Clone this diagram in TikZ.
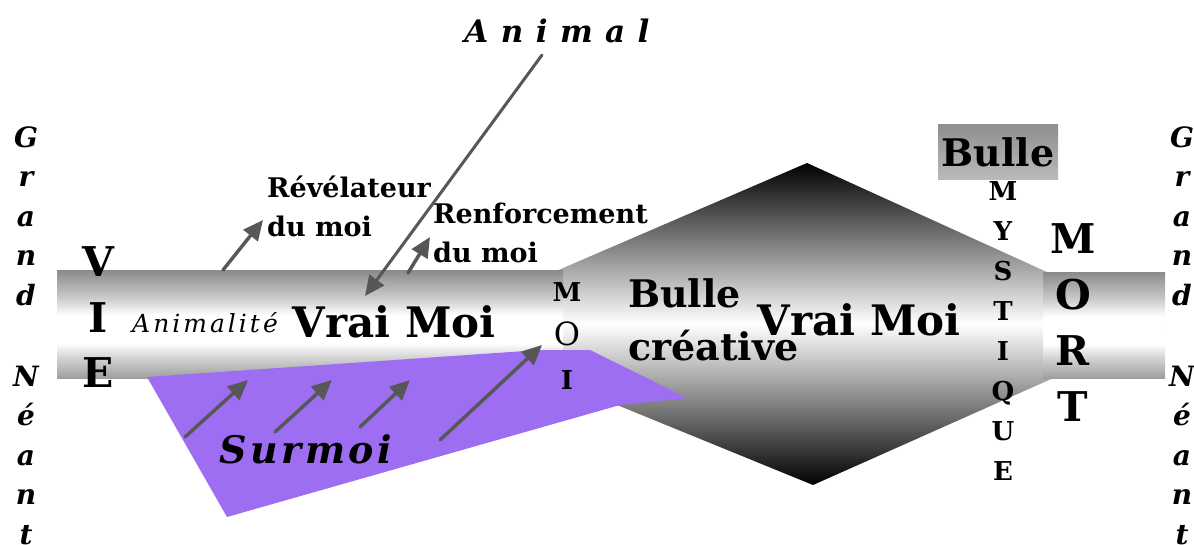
\documentclass[tikz,border=0pt]{standalone}
\usepackage{fontspec}
\setmainfont{DejaVu Serif}
\usepackage{xcolor}
\usepackage{tikz}
\usetikzlibrary{arrows.meta}
\definecolor{vmArrow}{HTML}{575757}
\definecolor{vmViolet}{HTML}{9E6EF2}
\pgfdeclareverticalshading{vmbarshade}{100bp}{color(0bp)=(black!38); color(25bp)=(black!38); color(35bp)=(black!16); color(41bp)=(white); color(54bp)=(white); color(62bp)=(black!20); color(75bp)=(black!46); color(100bp)=(black!46)}
\newcommand{\vmsize}[2]{\fontsize{#1}{#2}\selectfont}
\tikzset{
  vm diagram/.style={x=1pt, y=-1pt, line cap=round, line join=round},
  vm text/.style={inner sep=0pt, text=black},
  vm label/.style={vm text, font=\vmsize{27}{39}\bfseries, align=left},
  vm big/.style={vm text, font=\vmsize{42}{48}\bfseries},
  vm stack/.style={vm text, align=center},
  vm edge/.style={vm stack, font=\vmsize{28}{39.5}\bfseries\itshape},
  vm arrow/.style={-{Triangle[length=20pt,width=18pt]}, draw=vmArrow, line width=3.5pt},
  vm bar/.style={shading=vmbarshade},
  vm bubble/.style={top color=black, bottom color=black, middle color=white},
  vm box/.style={vm text, font=\vmsize{38}{44}\bfseries, minimum width=120pt,
    minimum height=55pt, top color=black!44, bottom color=black!27}
}

\begin{document}
\begin{tikzpicture}[vm diagram]
\useasboundingbox (0,0) rectangle (1194,544);
\shade[vm bubble] (426,327) -- (807,163) -- (1168,327) -- (813,485) -- cycle;
\shade[vm bar] (57,270) rectangle (563,378);
\shade[vm bar] (1043,272) rectangle (1165,378);
\fill[vmViolet] (147,377) -- (540,350) -- (590,350) -- (687,398) -- (620,405) -- (227,517) -- cycle;
\node[vm edge] (grandL) at (26,216) {G\\r\\a\\n\\d};
\node[vm edge] (neantL) at (26,455) {N\\é\\a\\n\\t};
\node[vm edge] (grandR) at (1182,216) {G\\r\\a\\n\\d};
\node[vm edge] (neantR) at (1182,455) {N\\é\\a\\n\\t};
\node[vm stack, font=\vmsize{41}{55.5}\bfseries] (vie) at (98,317.5) {V\\I\\E};
\node[vm text, font=\vmsize{25}{33}\itshape\addfontfeature{LetterSpace=12}] (animalite) at (205,323) {Animalité};
\node[vm big, anchor=base] (vraiL) at (394,337) {Vrai Moi};
\node[vm label, anchor=north west] (revel) at (267,176) {Révélateur\\du moi};
\node[vm label, anchor=north west] (renf) at (433,203) {Renforcement\\du moi};
\node[vm text, font=\vmsize{31}{36}\bfseries\itshape\addfontfeature{LetterSpace=40}] (animal) at (557,31) {Animal};
\node[vm stack, font=\vmsize{26}{44}\bfseries] (moi) at (567,336) {M\\{\mdseries\vmsize{32}{44}O}\\I};
\node[vm text, font=\vmsize{38}{53}\bfseries, align=left, anchor=north west] (bullecr) at (628,278) {Bulle\\créative};
\node[vm big, anchor=base] (vraiC) at (859,335) {Vrai Moi};
\node[vm box] (bulle) at (998,152) {Bulle};
\node[vm stack, font=\vmsize{26}{40}\bfseries] (mystique) at (1003,331) {M\\Y\\S\\T\\I\\Q\\U\\E};
\node[vm stack, font=\vmsize{41}{56.3}\bfseries] (mort) at (1073,322.5) {M\\O\\R\\T};
\node[vm text, font=\vmsize{38}{44}\bfseries\itshape\addfontfeature{LetterSpace=9}, anchor=base] (surmoi) at (306,463) {Surmoi};
\coordinate (animal from) at (542,55);
\coordinate (animal to) at (365,296);
\coordinate (revel from) at (223,270);
\coordinate (revel to) at (263,220);
\coordinate (renf from) at (408,273);
\coordinate (renf to) at (430,237);
\coordinate (sur1 from) at (185,437);
\coordinate (sur1 to) at (248,380);
\coordinate (sur2 from) at (275,432);
\coordinate (sur2 to) at (332,380);
\coordinate (sur3 from) at (360,427);
\coordinate (sur3 to) at (410,380);
\coordinate (sur4 from) at (440,440);
\coordinate (sur4 to) at (542,345);
\draw[vm arrow, line width=3pt] (animal from) -- (animal to);
\draw[vm arrow] (revel from) -- (revel to);
\draw[vm arrow] (renf from) -- (renf to);
\draw[vm arrow] (sur1 from) -- (sur1 to);
\draw[vm arrow] (sur2 from) -- (sur2 to);
\draw[vm arrow] (sur3 from) -- (sur3 to);
\draw[vm arrow] (sur4 from) -- (sur4 to);
\end{tikzpicture}
\end{document}
